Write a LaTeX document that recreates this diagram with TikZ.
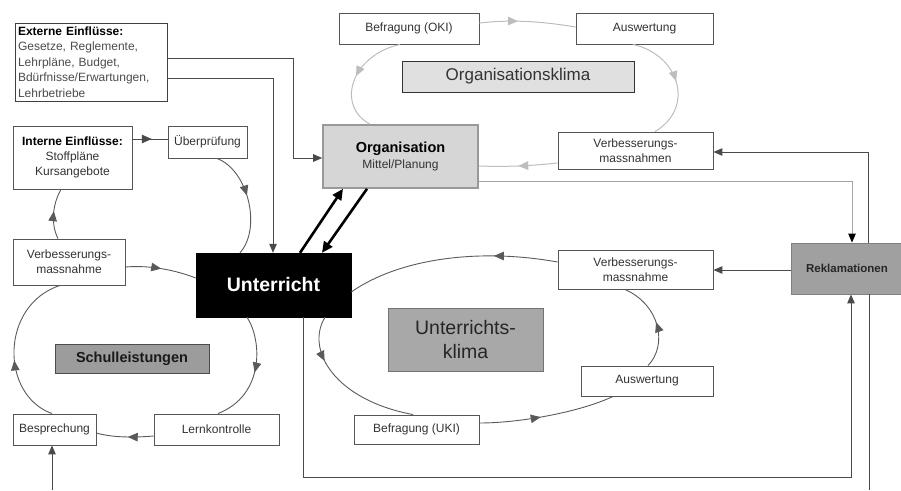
\documentclass[tikz,border=0pt]{standalone}
\usepackage{fontspec}
\setmainfont{Liberation Sans}
\usetikzlibrary{arrows.meta,decorations.markings}
\definecolor{bd}{HTML}{555555}
\definecolor{tx}{HTML}{333333}
\definecolor{ln}{HTML}{4A4A4A}
\definecolor{cy}{HTML}{5A5A5A}
\definecolor{lg}{HTML}{BDBDBD}
\definecolor{orgfill}{HTML}{D6D6D6}
\definecolor{okfill}{HTML}{E0E0E0}
\definecolor{ukfill}{HTML}{A8A8A8}
\definecolor{slfill}{HTML}{9C9C9C}
\definecolor{rkfill}{HTML}{A0A0A0}
\begin{document}
\begin{tikzpicture}[x=1pt,y=-1pt,
  >={Triangle[length=9pt,width=7.5pt]},
  box/.style={draw=bd,fill=white,text=tx,line width=0.9pt,inner sep=1pt,align=center,font=\fontsize{12}{15}\selectfont},
  conn/.style={draw=ln,line width=1pt},
  gconn/.style={draw=gray!70,line width=1pt},
  cyc/.style={draw=cy,line width=0.9pt},
  okc/.style={draw=lg,line width=1pt},
  marr/.style={postaction={decorate},decoration={markings,mark=at position #1 with {\arrow{Triangle[length=10pt,width=8.5pt]}}}},
  heavy/.style={draw=black,line width=2.6pt,-{Triangle[length=11pt,width=10pt]}},
]
\useasboundingbox (0,0) rectangle (901,490);
\begin{scope}
\clip (0,0) rectangle (901,490);

% nodes
\node[box,text width=146pt,align=left,minimum width=152pt,minimum height=78pt,draw=black!75,inner sep=0pt,text=black!70,font=\fontsize{12}{15.5}\selectfont] (ext) at (91,62)
  {{\bfseries\color{black}Externe Einflüsse:}\\Gesetze, Reglemente,\\Lehrpläne, Budget,\\Bdürfnisse/Erwartungen,\\Lehrbetriebe};
\node[box,minimum width=119pt,minimum height=63pt] (int) at (72.5,157.5)
  {{\bfseries\color{black}Interne Einflüsse:}\\Stoffpläne\\Kursangebote};
\node[box,minimum width=79pt,minimum height=32pt] (ueb) at (207.5,142) {Überprüfung};
\node[box,minimum width=112pt,minimum height=46pt] (vml) at (69,262) {Verbesserungs-\\massnahme};
\node[draw=black,fill=black,text=white,minimum width=155pt,minimum height=64pt,font=\fontsize{19.5}{22}\selectfont\bfseries] (unt) at (273.5,285) {Unterricht};
\node[box,fill=orgfill,draw=gray!80,line width=1.6pt,minimum width=155pt,minimum height=63pt] (org) at (400.5,156.5)
  {{\fontsize{14.5}{17}\selectfont\bfseries\color{black}Organisation}\\[1pt]Mittel/Planung};
\node[box,minimum width=140pt,minimum height=31pt] (boki) at (409,28.5) {Befragung (OKI)};
\node[box,minimum width=137pt,minimum height=31pt] (aoki) at (644.5,28.5) {Auswertung};
\node[box,fill=okfill,draw=black!80,minimum width=232pt,minimum height=31pt,font=\fontsize{17}{20}\selectfont] (oklima) at (518,76.5) {Organisationsklima};
\node[box,minimum width=155pt,minimum height=37pt] (vmo) at (635.5,150.5) {Verbesserungs-\\massnahmen};
\node[box,fill=rkfill,draw=gray,minimum width=111pt,minimum height=51pt,text=black!85,font=\fontsize{11.5}{14}\selectfont\bfseries] (rek) at (847,268.5) {Reklamationen};
\node[box,minimum width=155pt,minimum height=39pt] (vmu) at (635.5,269.5) {Verbesserungs-\\massnahme};
\node[box,fill=ukfill,draw=gray!90!black,minimum width=155pt,minimum height=63pt,text=black!85,font=\fontsize{19.5}{24}\selectfont] (uklima) at (465.5,339.5) {Unterrichts-\\klima};
\node[box,minimum width=132pt,minimum height=30pt] (auk) at (647,381) {Auswertung};
\node[box,minimum width=125pt,minimum height=29pt] (buk) at (416.5,429.5) {Befragung (UKI)};
\node[box,minimum width=125pt,minimum height=31pt] (lern) at (216.5,429.5) {Lernkontrolle};
\node[box,minimum width=83pt,minimum height=31pt] (besp) at (54.5,429.5) {Besprechung};
\node[box,fill=slfill,draw=black!70,minimum width=154pt,minimum height=29pt,text=black!90,font=\fontsize{14.5}{17}\selectfont\bfseries] (schul) at (132,358.5) {Schulleistungen};

\coordinate (bot1) at (869,490);
\coordinate (bot2) at (52,490);

% orthogonal connectors
\draw[conn,->] ([yshift=4pt]ext.east) -- (293,58) -- (293,158) -- ([yshift=-1.5pt]org.west);
\draw[conn,->] ([yshift=-16pt]ext.east) -| ([xshift=-0.5pt]unt.north);
\draw[conn,marr=0.55] ([yshift=18.5pt]int.east) -- ([yshift=3pt]ueb.west);
\draw[gconn,-{Triangle[length=9pt,width=7.5pt,fill=black,color=black]}] ([yshift=-24.5pt]org.east) -| ([xshift=5pt]rek.north);
\draw[conn,->] ([xshift=21pt]rek.north) |- ([yshift=-1.5pt]vmo.east);
\draw[conn,->] ([yshift=-1.5pt]rek.west) -- ([yshift=-0.5pt]vmu.east);
\draw[conn,->] ([xshift=29.5pt]unt.south) -- (303,477) -| ([xshift=4pt]rek.south);
\draw[conn] ([xshift=22pt]rek.south) -- (bot1);
\draw[conn,->] (bot2) -- ([xshift=-2.5pt]besp.south);

% heavy arrows
\draw[heavy] ([xshift=26.5pt]unt.north) -- ([xshift=-57.5pt]org.south);
\draw[heavy] ([xshift=-33.5pt]org.south) -- ([xshift=48.5pt]unt.north);

% Schulleistungen cycle
\draw[cyc,marr=0.45] ([xshift=9.5pt]ueb.south) .. controls (248,170) and (262,228) .. ([xshift=-33.5pt]unt.north);
\draw[cyc,marr=0.5] ([xshift=-26.5pt]unt.south) .. controls (262,340) and (265,395) .. ([xshift=1.5pt]lern.north);
\draw[cyc,marr=0.45] ([yshift=-6.5pt]lern.west) .. controls (130,438) and (110,437) .. ([yshift=-3.5pt]besp.east);
\draw[cyc,marr=0.42] ([xshift=-2.5pt]besp.north) .. controls (0,395) and (0,305) .. ([xshift=-9pt]vml.south);
\draw[cyc,marr=0.55] ([xshift=-11pt]vml.north) .. controls (51,225) and (52,205) .. ([xshift=-11.5pt]int.south);
\draw[cyc,marr=0.5] ([yshift=-5pt]vml.east) .. controls (150,265) and (175,270) .. ([yshift=7pt]unt.west);

% Unterrichtsklima cycle
\draw[cyc,marr=0.3] ([yshift=7.5pt]vmu.west) .. controls (480,248) and (400,258) .. ([yshift=-7pt]unt.east);
\draw[cyc,marr=0.3] ([xshift=51.5pt]unt.south) .. controls (305,350) and (335,400) .. ([xshift=-3.5pt]buk.north);
\draw[cyc,marr=0.45] ([yshift=6.5pt]buk.east) .. controls (520,423) and (580,412) .. ([xshift=-34pt]auk.south);
\draw[cyc,marr=0.5] ([xshift=1pt]auk.north) .. controls (668,345) and (660,305) .. ([xshift=-10.5pt]vmu.south);

% Organisationsklima cycle
\draw[okc,marr=0.4] ([yshift=5.5pt]boki.east) .. controls (515,19) and (545,22) .. ([yshift=1.5pt]aoki.west);
\draw[okc,marr=0.5] ([xshift=-11.5pt]aoki.south) .. controls (680,55) and (695,108) .. ([xshift=19.5pt]vmo.north);
\draw[okc,marr=0.5] ([yshift=-12.5pt]vmo.west) .. controls (530,166) and (505,167) .. ([yshift=-9.5pt]org.east);
\draw[okc,marr=0.5] ([xshift=-9pt]boki.south) .. controls (352,55) and (335,105) .. ([xshift=-30.5pt]org.north);
\end{scope}
\end{tikzpicture}
\end{document}
